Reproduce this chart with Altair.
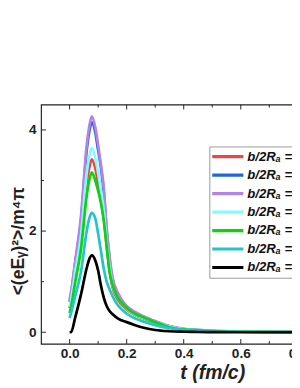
import altair as alt
import pandas as pd

# ---- data ----
T = [0.0, 0.005, 0.02, 0.04, 0.06, 0.07, 0.078, 0.09, 0.1, 0.11, 0.12, 0.13, 0.14,
     0.15, 0.17, 0.2, 0.23, 0.26, 0.3, 0.35, 0.4, 0.45, 0.5, 0.6, 0.7, 0.8, 0.9, 1.0]

SERIES = ["b/2Rₐ = 0.1", "b/2Rₐ = 0.2", "b/2Rₐ = 0.3", "b/2Rₐ = 0.4",
          "b/2Rₐ = 0.5", "b/2Rₐ = 0.6", "b/2Rₐ = 0.7"]
COLORS = ["#ee4444", "#2266dd", "#b383e6", "#86fbff", "#11d011", "#22c6c6", "#000000"]

red = [0.48, 0.6, 1.15, 1.8, 2.95, 3.28, 3.42, 3.24, 2.96, 2.63, 2.25, 1.7, 1.22,
       0.9, 0.64, 0.45, 0.34, 0.27, 0.19, 0.1, 0.055, 0.037, 0.025, 0.012, 0.006, 0.003, 0.001, 0.0]
blue = [0.6, 0.75, 1.38, 2.2, 3.6, 4.0, 4.15, 3.95, 3.6, 3.25, 2.75, 2.0, 1.45,
        1.05, 0.74, 0.51, 0.38, 0.3, 0.21, 0.115, 0.063, 0.043, 0.028, 0.014, 0.007, 0.003, 0.001, 0.0]
purple = [0.65, 0.8, 1.42, 2.3, 3.7, 4.1, 4.27, 4.05, 3.7, 3.3, 2.85, 2.05, 1.5,
          1.1, 0.77, 0.52, 0.4, 0.31, 0.22, 0.12, 0.065, 0.045, 0.03, 0.015, 0.008, 0.004, 0.002, 0.0]
cyan = [0.5, 0.65, 1.2, 1.92, 3.15, 3.5, 3.64, 3.45, 3.15, 2.8, 2.4, 1.78, 1.3,
        0.95, 0.68, 0.47, 0.35, 0.28, 0.2, 0.11, 0.06, 0.04, 0.026, 0.012, 0.006, 0.003, 0.001, 0.0]
green = [0.38, 0.5, 1.0, 1.65, 2.7, 3.03, 3.16, 3.0, 2.8, 2.55, 2.2, 1.7, 1.2,
         0.95, 0.68, 0.48, 0.36, 0.29, 0.2, 0.1, 0.055, 0.037, 0.025, 0.012, 0.006, 0.003, 0.001, 0.0]
teal = [0.28, 0.38, 0.72, 1.2, 2.0, 2.27, 2.36, 2.25, 1.95, 1.6, 1.25, 1.0, 0.85,
        0.72, 0.53, 0.37, 0.27, 0.21, 0.14, 0.08, 0.045, 0.03, 0.02, 0.01, 0.005, 0.002, 0.001, 0.0]
black = [0.0, 0.0, 0.3, 0.75, 1.27, 1.46, 1.52, 1.42, 1.22, 0.92, 0.68, 0.52, 0.42,
         0.36, 0.27, 0.2, 0.14, 0.09, 0.045, 0.02, 0.01, 0.005, 0.003, 0.0, 0.0, 0.0, 0.0, 0.0]

VALUES = [red, blue, purple, cyan, green, teal, black]

X_MAJOR = [0.0, 0.2, 0.4, 0.6, 0.8, 1.0]
X_MINOR = [0.1, 0.3, 0.5, 0.7, 0.9]
Y_MAJOR = [0, 2, 4]
Y_MINOR = [1, 3]

X_DOMAIN = [-0.1, 1.1]
Y_DOMAIN = [-0.23, 4.5]

W, H = 352, 246
FONT = "Liberation Sans"

rows = []
for i, (name, vals) in enumerate(zip(SERIES, VALUES)):
    for t, v in zip(T, vals):
        rows.append({"t": t, "v": v, "s": name, "o": i})
df = pd.DataFrame(rows)

xs = alt.Scale(domain=X_DOMAIN, nice=False, zero=False)
ys = alt.Scale(domain=Y_DOMAIN, nice=False, zero=False)

x_axis = alt.Axis(values=X_MAJOR, format=".1f", ticks=False, domain=False, grid=False,
                  labelFont=FONT, labelFontWeight="bold", labelFontSize=14,
                  labelColor="#222", labelPadding=3,
                  title="t (fm/c)", titleFont=FONT, titleFontWeight="bold",
                  titleFontStyle="italic", titleFontSize=20, titleColor="#222",
                  titlePadding=3)
y_axis = alt.Axis(values=Y_MAJOR, format="d", ticks=False, domain=False, grid=False,
                  labelFont=FONT, labelFontWeight="bold", labelFontSize=14,
                  labelColor="#222", labelPadding=5,
                  title="<(eEᵧ)²>/m⁴π", titleFont=FONT, titleFontWeight="bold",
                  titleFontSize=18, titleColor="#222", titlePadding=1, titleY=140)

lines = alt.Chart(df).mark_line(strokeWidth=2.8, interpolate="monotone", clip=True).encode(
    x=alt.X("t:Q", scale=xs, axis=x_axis),
    y=alt.Y("v:Q", scale=ys, axis=y_axis),
    color=alt.Color("s:N", scale=alt.Scale(domain=SERIES, range=COLORS),
                    legend=alt.Legend(orient="none", legendX=173, legendY=43, title=None,
                                      symbolType="stroke", symbolStrokeWidth=3.2,
                                      symbolSize=1024, strokeColor="#999999",
                                      fillColor="white", padding=1, labelOffset=2,
                                      rowPadding=0, clipHeight=19,
                                      labelFont=FONT, labelFontWeight="bold",
                                      labelFontStyle="italic", labelFontSize=13.5,
                                      labelColor="#111", labelLimit=0)),
    order=alt.Order("o:Q"),
)

def tick_layer(vals, orient, length):
    base = alt.Chart(pd.DataFrame({"t": vals, "v": vals})).mark_rule(color="#222", strokeWidth=1)
    if orient == "bottom":
        return base.encode(x=alt.X("t:Q", scale=xs, axis=x_axis),
                           y=alt.value(H), y2=alt.value(H - length))
    if orient == "top":
        return base.encode(x=alt.X("t:Q", scale=xs, axis=x_axis),
                           y=alt.value(0), y2=alt.value(length))
    return base.encode(y=alt.Y("v:Q", scale=ys, axis=y_axis),
                       x=alt.value(0), x2=alt.value(length))

ticks = [
    tick_layer(X_MAJOR, "bottom", 5), tick_layer(X_MINOR, "bottom", 3),
    tick_layer(X_MAJOR, "top", 5), tick_layer(X_MINOR, "top", 3),
    tick_layer(Y_MAJOR, "left", 5), tick_layer(Y_MINOR, "left", 3),
]

chart = alt.layer(lines, *ticks).properties(
    width=W, height=H,
    autosize=alt.AutoSizeParams(type="none"),
    padding={"left": 34, "top": 94, "right": -94, "bottom": 40},
    background="white",
).configure_view(stroke="#222", strokeWidth=1.2)

chart.save("out.html", embed_options={"renderer": "svg", "actions": False})
